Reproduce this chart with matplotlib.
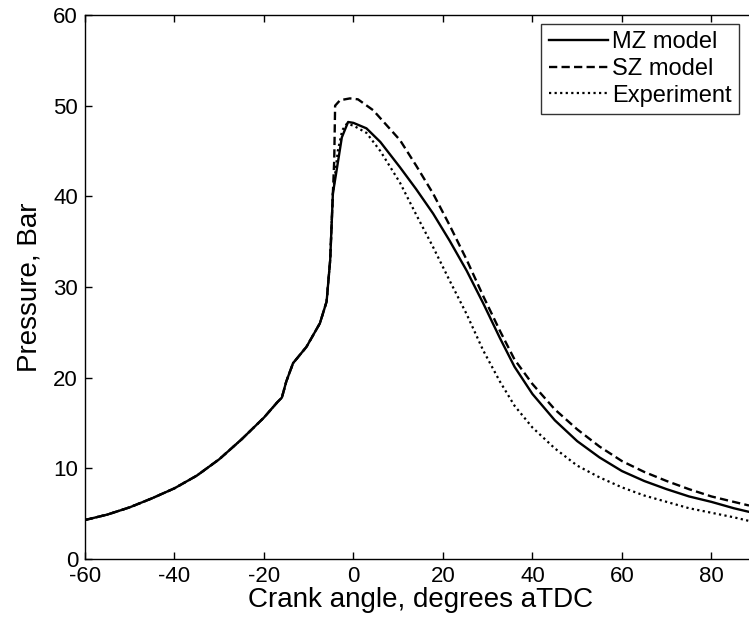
import matplotlib
matplotlib.use("Agg")
import matplotlib.pyplot as plt

# Shared compression part (crank angle, pressure in bar)
comp_x = [-60, -55, -50, -45, -40, -35, -30, -25, -20, -17, -16, -15, -13.5, -10.5, -7.5, -6, -5.2, -4.6]
comp_y = [4.3, 4.9, 5.7, 6.7, 7.8, 9.2, 11.0, 13.2, 15.6, 17.3, 17.8, 19.6, 21.6, 23.4, 26.0, 28.4, 33.0, 40.3]

mz_x = [-3.4, -2.6, -1.2, 0, 2.9, 6, 10.4, 14, 17.8, 21.5, 25.3, 29, 32.7, 36, 40, 45, 50, 55, 60, 65, 70, 75, 80, 85, 88.4]
mz_y = [44.0, 46.5, 48.2, 48.1, 47.5, 46.0, 43.2, 40.8, 38.1, 35.1, 31.8, 28.2, 24.4, 21.2, 18.2, 15.3, 13.0, 11.2, 9.7, 8.6, 7.7, 6.9, 6.3, 5.6, 5.2]

sz_x = [-4.3, -4.1, -3.0, -0.8, 1, 4.4, 10.4, 14, 17.8, 21.5, 25.3, 29, 32.7, 36, 40, 45, 50, 55, 60, 65, 70, 75, 80, 85, 88.4]
sz_y = [44.0, 50.0, 50.6, 50.8, 50.7, 49.5, 46.2, 43.4, 40.3, 36.8, 33.0, 29.0, 25.2, 22.0, 19.3, 16.5, 14.3, 12.4, 10.8, 9.6, 8.6, 7.7, 6.9, 6.3, 5.9]

exp_x = [-3.5, -2.5, -1.5, 0, 2.9, 6, 10.4, 14, 17.8, 21.5, 25.3, 29, 32.7, 36, 40, 45, 50, 55, 60, 65, 70, 75, 80, 85, 88.4]
exp_y = [45.0, 47.3, 48.0, 47.8, 47.0, 45.0, 41.5, 38.0, 34.4, 30.7, 27.0, 23.0, 19.6, 16.9, 14.5, 12.2, 10.3, 9.0, 7.9, 7.0, 6.3, 5.6, 5.1, 4.6, 4.2]

xticks = [-60, -40, -20, 0, 20, 40, 60, 80]
yticks = [0, 10, 20, 30, 40, 50, 60]

plt.rcParams['font.family'] = ['Liberation Sans', 'DejaVu Sans']
plt.rcParams['axes.unicode_minus'] = False

fig = plt.figure(figsize=(7.49, 6.26), dpi=100)
left = 85/749
ax = fig.add_axes([left, 67/626, 1 - left + 0.01, 544/626])

ax.plot(comp_x + mz_x, comp_y + mz_y, color='black', lw=1.7, ls='-', label='MZ model')
ax.plot(comp_x + sz_x, comp_y + sz_y, color='black', lw=1.7, ls=(0, (3.5, 1.8)), label='SZ model')
ax.plot(comp_x + exp_x, comp_y + exp_y, color='black', lw=1.6, ls=(0, (1, 1.5)), label='Experiment')

ax.set_xlim(-60, 88.4 + 148.4*0.01/(1 - left))
ax.set_ylim(0, 60)
ax.set_xticks(xticks)
ax.set_yticks(yticks)
ax.tick_params(direction='in', top=True, right=True, labelsize=16, length=5, width=1)
ax.tick_params(axis='x', pad=5)
ax.tick_params(axis='y', pad=5)
for s in ax.spines.values():
    s.set_linewidth(1.0)
ax.set_xlabel('Crank angle, degrees aTDC', fontsize=20, labelpad=0)
ax.set_ylabel('Pressure, Bar', fontsize=20, labelpad=8)

leg = ax.legend(loc='upper right', fontsize=17, frameon=True, fancybox=False, edgecolor='black',
                handlelength=2.5, borderpad=0.3, labelspacing=0.2, handletextpad=0.2, borderaxespad=0.0)
leg.get_frame().set_linewidth(1.0)
leg.set_bbox_to_anchor((739/749, 1 - 24/626), transform=fig.transFigure)

fig.savefig('out.png', dpi=100)
